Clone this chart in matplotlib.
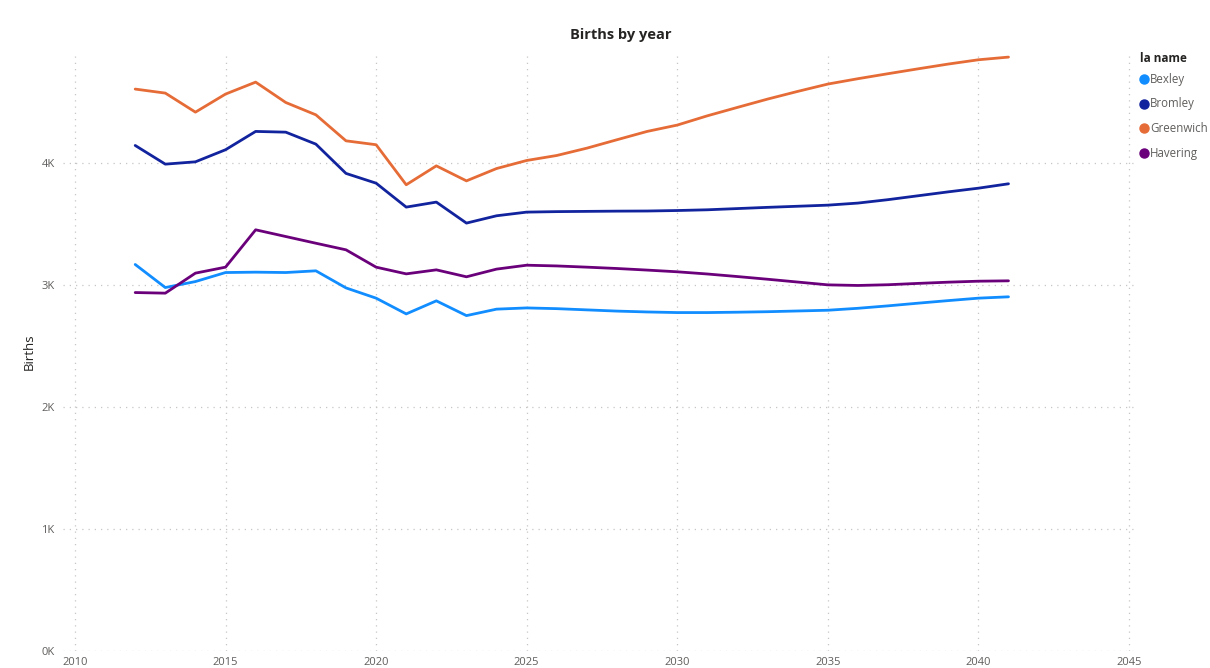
"""Births by year for four south-east London boroughs (Power BI style line chart)."""

import matplotlib
matplotlib.use("Agg")
import matplotlib.pyplot as plt
from matplotlib.ticker import FuncFormatter

years = list(range(2012, 2042))

bexley = [3167, 2978, 3027, 3101, 3104, 3101, 3115, 2975, 2891, 2762,
          2869, 2748, 2801, 2811, 2805, 2795, 2785, 2778, 2773, 2773,
          2776, 2780, 2786, 2792, 2808, 2828, 2850, 2871, 2891, 2902]
bromley = [4142, 3989, 4008, 4107, 4257, 4251, 4153, 3913, 3833, 3637,
           3678, 3506, 3566, 3596, 3600, 3602, 3604, 3605, 3609, 3615,
           3625, 3635, 3644, 3653, 3670, 3698, 3730, 3762, 3792, 3828]
greenwich = [4604, 4571, 4415, 4563, 4661, 4494, 4393, 4180, 4148, 3820,
             3975, 3852, 3953, 4019, 4060, 4120, 4189, 4257, 4309, 4385,
             4454, 4522, 4585, 4645, 4689, 4730, 4770, 4809, 4844, 4866]
havering = [2937, 2932, 3096, 3145, 3451, 3396, 3341, 3287, 3145, 3090,
            3123, 3066, 3129, 3161, 3155, 3145, 3134, 3121, 3107, 3089,
            3068, 3046, 3023, 3000, 2995, 3001, 3012, 3022, 3030, 3033]

series_names = ["Bexley", "Bromley", "Greenwich", "Havering"]
colors = ["#118DFF", "#12239E", "#E66C37", "#6B007B"]

x_ticks = [2010, 2015, 2020, 2025, 2030, 2035, 2040, 2045]
y_ticks = [0, 1000, 2000, 3000, 4000]

plt.rcParams["font.family"] = ["Open Sans", "DejaVu Sans"]

fig = plt.figure(figsize=(12.1, 6.68), dpi=100)
ax = fig.add_axes([0.052, 0.0254, 0.886, 0.8926])

for name, values, color in zip(series_names, [bexley, bromley, greenwich, havering], colors):
    ax.plot(years, values, color=color, linewidth=2.0, solid_capstyle="round",
            solid_joinstyle="round")

ax.set_xlim(2009.6, 2045.2)
ax.set_ylim(0, 4885)
ax.set_xticks(x_ticks)
ax.set_yticks(y_ticks)
ax.yaxis.set_major_formatter(FuncFormatter(lambda v, _: f"{v / 1000:.0f}K"))
ax.tick_params(length=0, labelsize=8, labelcolor="#605E5C", pad=6)
ax.tick_params(axis="x", pad=4)
ax.grid(True, color="#C8C6C4", linestyle=(0, (1, 4)), linewidth=0.9)
for spine in ax.spines.values():
    spine.set_visible(False)

fig.text(29 / 1210, 1 - 352 / 668, "Births", rotation=90, ha="center", va="center",
         fontsize=9.5, color="#252423")
fig.text(621 / 1210, 1 - 35 / 668, "Births by year", ha="center", va="center",
         fontsize=10.5, fontweight="bold", color="#252423")

# legend drawn by hand so it sits in the right margin like Power BI
fig.text(1140 / 1210, 1 - 58 / 668, "la name", ha="left", va="center",
         fontsize=8.5, fontweight="bold", color="#252423")
for i, (name, color) in enumerate(zip(series_names, colors)):
    y = 1 - (79 + i * 24.7) / 668
    fig.lines.append(plt.Line2D([1144 / 1210], [y], marker="o", markersize=6.5,
                                color=color, transform=fig.transFigure))
    fig.text(1150 / 1210, y, name, ha="left", va="center", fontsize=8.3, color="#605E5C")

fig.savefig("out.png", dpi=100)
